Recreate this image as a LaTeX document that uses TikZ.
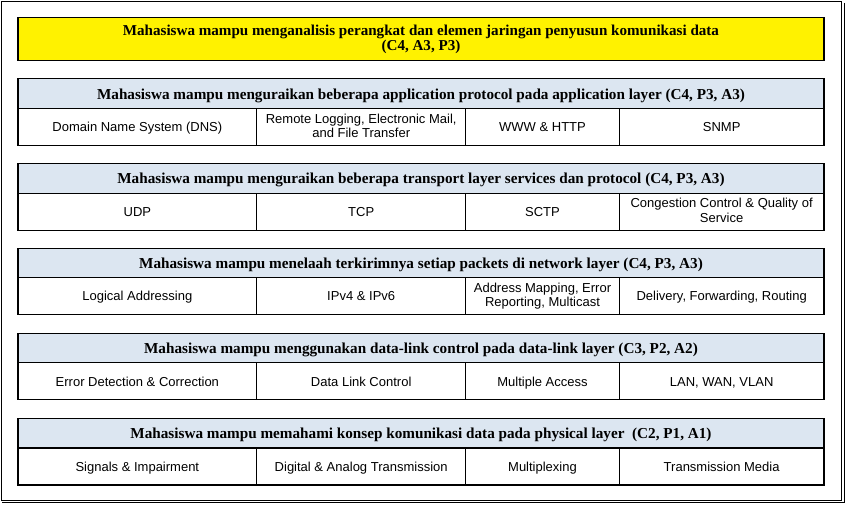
\documentclass[tikz,border=0pt]{standalone}
\usepackage{fontspec}
\setmainfont{Liberation Serif}
\setsansfont{Liberation Sans}
\definecolor{headblue}{HTML}{DCE6F1}
% invisible rules that fix the top and bottom of a node's text
\newcommand\topstrut[1]{\rule{0pt}{#1}}
\newcommand\botstrut[1]{\rule[-#1]{0pt}{#1}}

\begin{document}
\begin{tikzpicture}[x=1pt, y=-1pt,
	every node/.style = {shape=rectangle, draw, line width=1.1pt,
		inner sep=0pt, outer sep=0pt, align=center, anchor=north west},
	goal/.style = {fill=yellow, minimum width=806pt, minimum height=43.4pt,
		font=\bfseries\fontsize{15.1}{15}\selectfont,
		execute at begin node=\topstrut{13.6pt}, execute at end node=\botstrut{3.3pt}},
	head/.style = {fill=headblue, minimum width=806pt, minimum height=29.7pt,
		font=\bfseries\fontsize{15.2}{16}\selectfont,
		execute at begin node=\topstrut{14.3pt}, execute at end node=\botstrut{3.3pt}},
	cell/.style = {minimum height=37pt, font=\sffamily\fontsize{13}{14.3}\selectfont,
		execute at begin node=\topstrut{12pt}, execute at end node=\botstrut{2.7pt}},
	colA/.style = {cell, minimum width=238.7pt},
	colB/.style = {cell, minimum width=209pt},
	colC/.style = {cell, minimum width=153.6pt},
	colD/.style = {cell, minimum width=204.7pt}]
	\useasboundingbox (0,0) rectangle (849,511);
	% outer frame
	\draw[line width=1pt] (1.5,1.5) rectangle (841.5,500);
	\draw[line width=1pt] (844,3) -- (844,502.5) -- (1.5,502.5);
	
	\node[goal] (goal) at (18,17.3) {Mahasiswa mampu menganalisis perangkat dan elemen jaringan penyusun komunikasi data\\(C4, A3, P3)};
	
	\foreach \g/\y/\txt/\ca/\cb/\cc/\cd in {
		app/78.7/{Mahasiswa mampu menguraikan beberapa application protocol pada application layer (C4, P3, A3)}/{Domain Name System (DNS)}/{Remote Logging, Electronic Mail,\\and File Transfer}/{WWW \& HTTP}/{SNMP},
		trans/163.4/{Mahasiswa mampu menguraikan beberapa transport layer services dan protocol (C4, P3, A3)}/{UDP}/{TCP}/{SCTP}/{Congestion Control \& Quality of\\Service},
		net/248.1/{Mahasiswa mampu menelaah terkirimnya setiap packets di network layer (C4, P3, A3)}/{Logical Addressing}/{IPv4 \& IPv6}/{Address Mapping, Error\\Reporting, Multicast}/{Delivery, Forwarding, Routing},
		link/333.2/{Mahasiswa mampu menggunakan data-link control pada data-link layer (C3, P2, A2)}/{Error Detection \& Correction}/{Data Link Control}/{Multiple Access}/{LAN, WAN, VLAN},
		phys/418.3/{Mahasiswa mampu memahami konsep komunikasi data pada physical layer\ \ (C2, P1, A1)}/{Signals \& Impairment}/{Digital \& Analog Transmission}/{Multiplexing}/{Transmission Media}}
	{
		\node[head] (\g-head) at (18,\y) {\txt};
		\node[colA] (\g-a) at (\g-head.south west) {\ca};
		\node[colB] (\g-b) at (\g-a.north east) {\cb};
		\node[colC] (\g-c) at (\g-b.north east) {\cc};
		\node[colD] (\g-d) at (\g-c.north east) {\cd};
	}
\end{tikzpicture}
\end{document}
